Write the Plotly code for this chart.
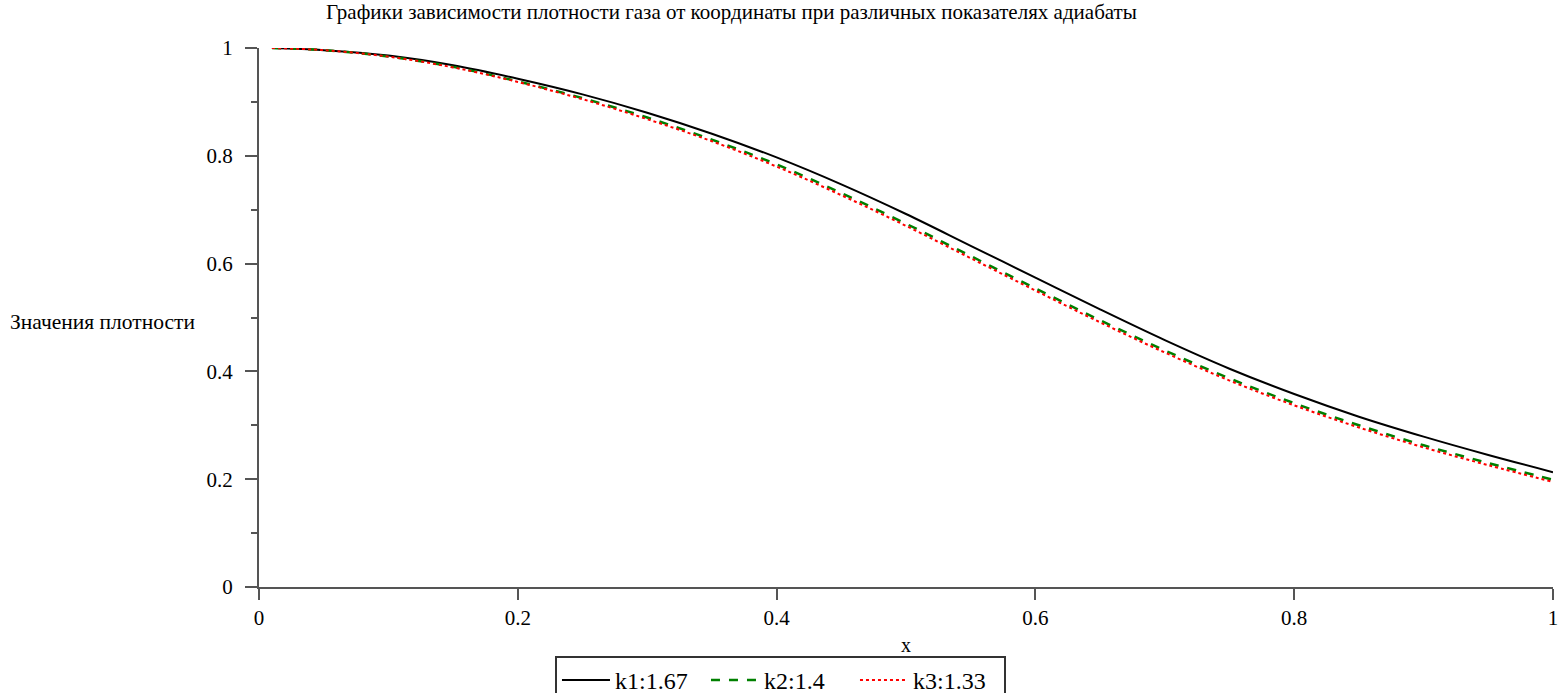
import plotly.graph_objects as go

# Координата x и плотность газа для трёх показателей адиабаты
x = [0.01, 0.05, 0.10, 0.15, 0.20, 0.25, 0.30, 0.35, 0.40, 0.45, 0.50,
     0.55, 0.60, 0.65, 0.70, 0.75, 0.80, 0.85, 0.90, 0.95, 1.00]
rho_k1 = [1.000, 0.996, 0.986, 0.968, 0.943, 0.914, 0.880, 0.841, 0.797, 0.747, 0.692,
          0.633, 0.574, 0.515, 0.458, 0.405, 0.358, 0.316, 0.279, 0.245, 0.213]
rho_k2 = [1.000, 0.996, 0.984, 0.965, 0.938, 0.907, 0.871, 0.830, 0.784, 0.731, 0.674,
          0.614, 0.554, 0.495, 0.439, 0.387, 0.341, 0.300, 0.263, 0.230, 0.199]
rho_k3 = [1.000, 0.996, 0.984, 0.964, 0.937, 0.905, 0.868, 0.827, 0.780, 0.727, 0.670,
          0.610, 0.550, 0.491, 0.435, 0.383, 0.337, 0.296, 0.259, 0.226, 0.195]
names = ["k1:1.67", "k2:1.4", "k3:1.33"]

y_ticks = [0, 0.2, 0.4, 0.6, 0.8, 1]
x_ticks = [0, 0.2, 0.4, 0.6, 0.8, 1]
tick_text = ["0", "0.2", "0.4", "0.6", "0.8", "1"]

FONT = "Liberation Serif"
AXIS = "#555555"

fig = go.Figure()
fig.add_trace(go.Scatter(x=x, y=rho_k1, name=names[0], mode="lines",
                         line=dict(color="#000000", width=2, shape="spline")))
fig.add_trace(go.Scatter(x=x, y=rho_k2, name=names[1], mode="lines",
                         line=dict(color="#008000", width=2.5, dash="dash", shape="spline")))
fig.add_trace(go.Scatter(x=x, y=rho_k3, name=names[2], mode="lines",
                         line=dict(color="#ff0000", width=2, dash="dot", shape="spline")))

fig.update_layout(
    width=1560, height=693,
    margin=dict(l=259, r=7, t=48, b=106, autoexpand=False),
    paper_bgcolor="white", plot_bgcolor="white",
    font=dict(family=FONT, size=20, color="#000000"),
    showlegend=True,
    legend=dict(orientation="h", x=0.403, xanchor="center", y=-0.128, yanchor="top",
                bordercolor="#333333", borderwidth=2, font=dict(size=24, family=FONT),
                itemwidth=48, entrywidth=86, entrywidthmode="pixels",
                tracegroupgap=0, bgcolor="white"),
    annotations=[
        dict(text="Графики зависимости плотности газа от координаты при различных показателях адиабаты",
             xref="paper", yref="paper", x=0.3655, y=1.0, yshift=36, xanchor="center",
             yanchor="middle", showarrow=False, font=dict(size=21, family=FONT)),
        dict(text="Значения плотности", xref="paper", yref="paper", x=-0.194, y=0.492,
             xanchor="left", yanchor="middle", showarrow=False,
             font=dict(size=21.5, family=FONT)),
        dict(text="x", xref="paper", yref="paper", x=0.5, y=0, yshift=-58,
             xanchor="center", yanchor="middle", showarrow=False,
             font=dict(size=20, family=FONT)),
    ],
)

fig.update_xaxes(range=[0, 1], tickvals=x_ticks, ticktext=tick_text,
                 showgrid=False, zeroline=False, showline=True, linecolor=AXIS, linewidth=2,
                 ticks="outside", ticklen=11, tickwidth=2, tickcolor=AXIS,
                 tickfont=dict(size=21, family=FONT), fixedrange=True)
fig.update_yaxes(range=[0, 1], tickvals=y_ticks, ticktext=tick_text,
                 showgrid=False, zeroline=False, showline=True, linecolor=AXIS, linewidth=2,
                 ticks="outside", ticklen=12, tickwidth=2, tickcolor=AXIS,
                 minor=dict(dtick=0.1, ticks="outside", ticklen=6, tickwidth=2, tickcolor=AXIS,
                            showgrid=False),
                 ticklabelstandoff=8,
                 tickfont=dict(size=21, family=FONT), fixedrange=True)

fig.write_html("out.html")
